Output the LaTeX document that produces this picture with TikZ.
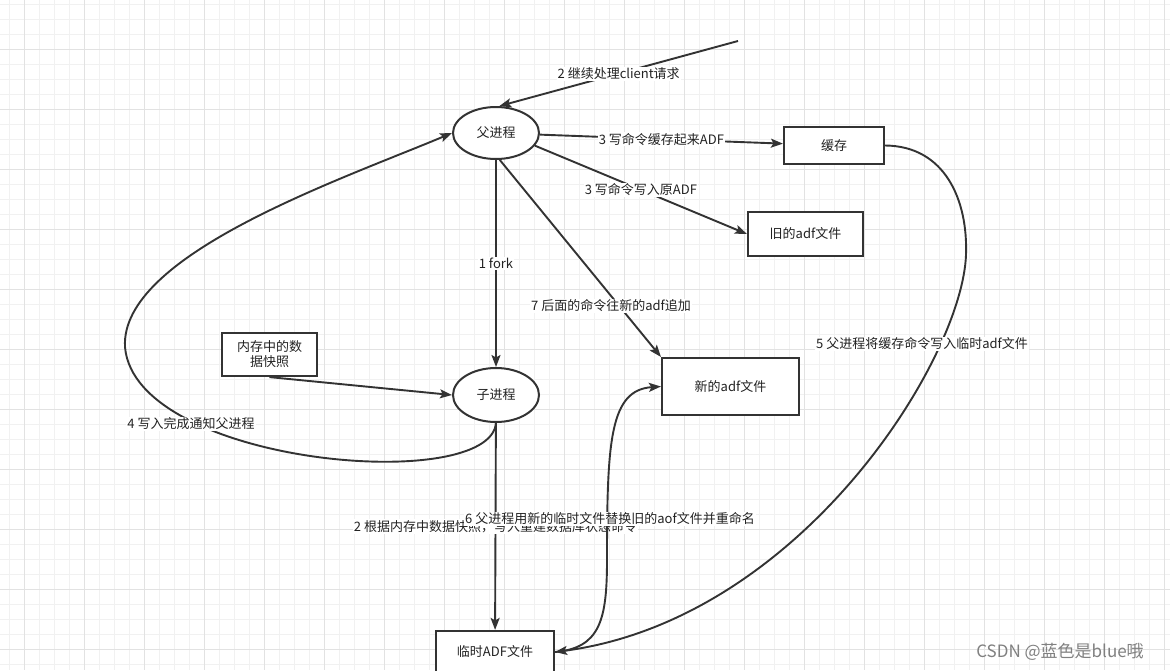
\documentclass[tikz,border=0pt]{standalone}
\usepackage{fontspec}
\setmainfont{Noto Sans CJK SC}
\usetikzlibrary{shapes.geometric,arrows.meta}
\definecolor{ink}{HTML}{333333}
\definecolor{txt}{HTML}{222222}
\definecolor{gminor}{HTML}{F1F1F1}
\definecolor{gmajor}{HTML}{E2E2E2}
\definecolor{wm}{HTML}{808080}
\begin{document}
\begin{tikzpicture}[x=1pt,y=-1pt,
  every node/.style={font=\fontsize{13}{16}\selectfont, text=txt},
  proc/.style={ellipse, draw=ink, line width=2pt, fill=white, minimum width=86pt, minimum height=52pt, inner sep=0pt},
  filebox/.style={rectangle, draw=ink, line width=2.2pt, fill=white, inner sep=0pt, align=center},
  arr/.style={draw=ink, line width=1.9pt, -{Stealth[length=12pt,width=9pt,inset=2.5pt]}},
  lbl/.style={fill=white, inner sep=1pt},
]
\fill[white] (0,0) rectangle (1170,670);
\useasboundingbox (0,0) rectangle (1170,670);
% grid
\foreach \x in {9,24,...,1169} \draw[gminor, line width=1pt] (\x,0) -- (\x,670);
\foreach \y in {4,19,...,664} \draw[gminor, line width=1pt] (0,\y) -- (1170,\y);
\foreach \x in {24,84,...,1164} \draw[gmajor, line width=1pt] (\x,0) -- (\x,670);
\foreach \y in {49,109,...,649} \draw[gmajor, line width=1pt] (0,\y) -- (1170,\y);

% nodes
\node[proc] (parent) at (496,133) {父进程};
\node[proc, minimum height=54pt] (child) at (496,395) {子进程};
\node[filebox, minimum width=100pt, minimum height=37pt] (cache) at (834,145.5) {缓存};
\node[filebox, minimum width=115pt, minimum height=44pt] (oldf) at (805.5,234) {旧的adf文件};
\node[filebox, minimum width=137pt, minimum height=57pt] (newf) at (730.5,386.5) {新的adf文件};
\node[filebox, minimum width=95pt, minimum height=43pt, font=\fontsize{13}{15}\selectfont] (snap) at (269.5,354.5) {内存中的数\\据快照};
\node[filebox, minimum width=118pt, minimum height=42pt] (tmp) at (495,652) {临时ADF文件};
\coordinate (clientsrc) at (738,41);

% connectors
\draw[arr] (clientsrc) -- node[lbl, pos=0.5] {2 继续处理client请求} (parent.83);
\draw[arr] (parent) -- node[lbl, pos=0.5] {3 写命令缓存起来ADF} (cache);
\draw[arr] (parent.-18) -- node[lbl, pos=0.5] {3 写命令写入原ADF} (oldf.west);
\draw[arr] (parent) -- node[lbl, pos=0.5] {1 fork} (child);
\draw[arr] (parent.-82) -- node[lbl, pos=0.74, xshift=-8pt] {7 后面的命令往新的adf追加} (newf.north west);
\draw[arr] (snap.south) -- (child.west);
\draw[arr] (child.south) .. controls (490,495) and (135,465) .. (125,347) .. controls (120,255) and (340,180) .. (parent.west);
\node[lbl] (l4) at (191,424) {4 写入完成通知父进程};
\draw[arr] (child) -- node[lbl, pos=0.5] {2 根据内存中数据快照，写入重建数据库状态命令} (tmp);
\draw[arr] (cache.east) .. controls (945,146) and (968,200) .. (966,255) .. controls (962,360) and (800,620) .. (tmp.east);
\node[lbl] (l5) at (922,344) {5 父进程将缓存命令写入临时adf文件};
\draw[arr] (tmp.east) .. controls (600,648) and (607,620) .. (607,560) .. controls (607,440) and (610,390) .. (newf.west);
\node[lbl] (l6) at (610,519) {6 父进程用新的临时文件替换旧的aof文件并重命名};

\node[font=\fontsize{17}{19}\selectfont, text=wm] (wmark) at (1060,652) {CSDN @蓝色是blue哦};
\end{tikzpicture}
\end{document}
